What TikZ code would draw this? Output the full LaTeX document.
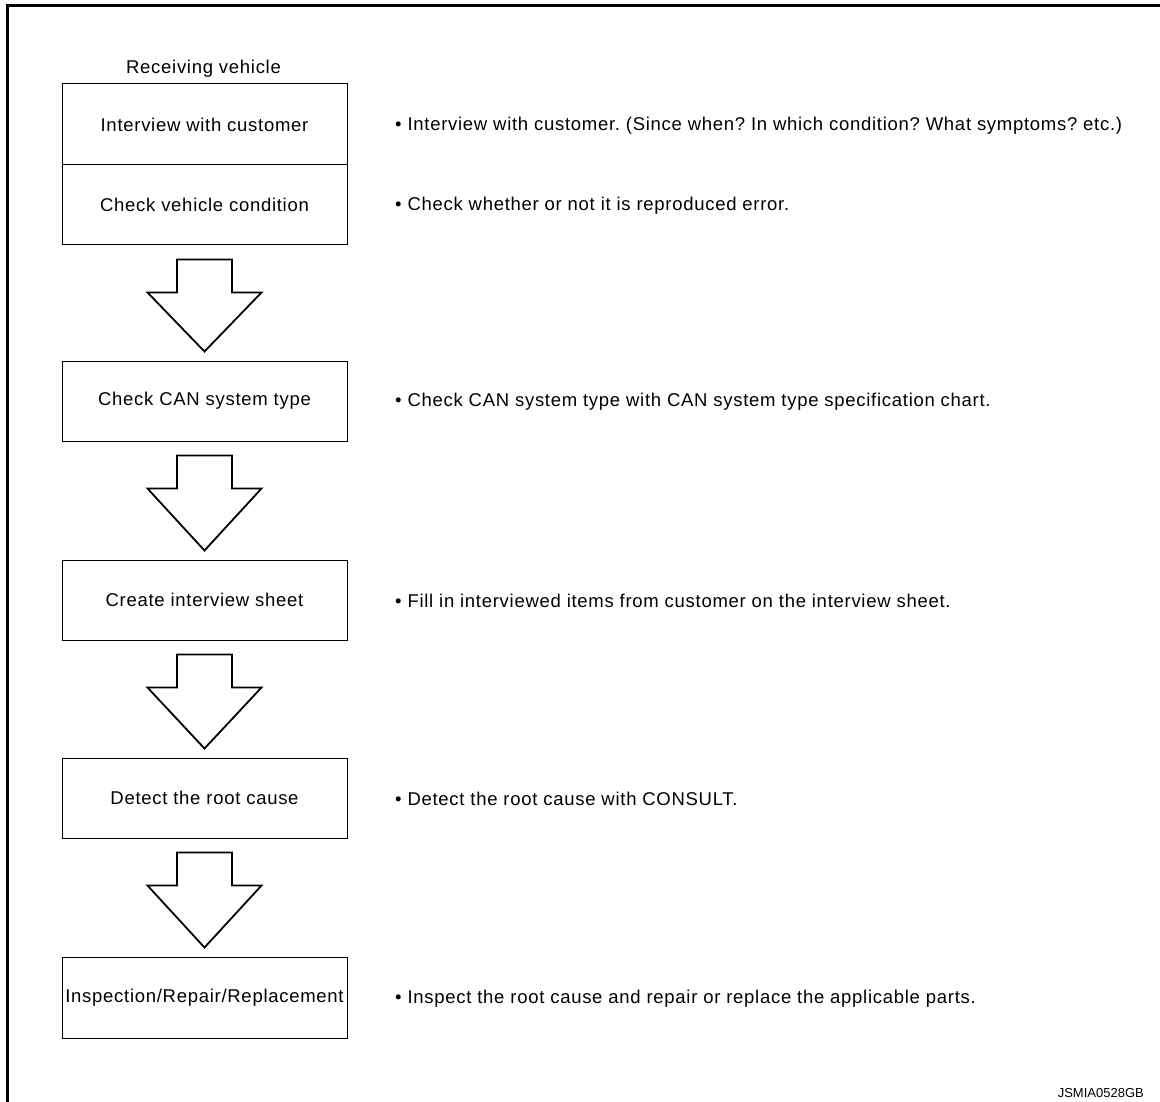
\documentclass[tikz,border=0pt]{standalone}
\usepackage{fontspec}
\setmainfont{Liberation Sans}
\usetikzlibrary{calc}
\newfontfamily\lbl[LetterSpace=3.9]{Liberation Sans}
\frenchspacing
\tikzset{
  stepbox/.style={draw, line width=1pt, minimum width=285pt, minimum height=80pt, inner sep=0pt, font=\lbl\fontsize{18.5}{21}\selectfont},
  note/.style={anchor=west, inner sep=0pt, font=\lbl\fontsize{18.5}{21}\selectfont},
  fat/.style={draw, line width=1.8pt, fill=white, line join=miter},
  frame/.style={line width=3pt, line join=miter}
}
\newcommand\fatarrow[2]{%
  \draw[fat] ($(#1.south)+(-27.5,14)$) -- ($(#1.south)+(27.5,14)$) -- ($(#1.south)+(27.5,47)$) -- ($(#1.south)+(57,47)$) -- ($(#2.north)+(0,-9)$) -- ($(#1.south)+(-57,47)$) -- ($(#1.south)+(-27.5,47)$) -- cycle;}
\begin{document}
\begin{tikzpicture}[x=1pt,y=-1pt]
\useasboundingbox (0,0) rectangle (1160,1102);
\draw[frame] (1160,5.5) -- (7,5.5) -- (7,1102);

\node[note, anchor=center] (rv) at (203.5,69) {Receiving vehicle};

\node[stepbox, minimum height=81pt] (b1) at (204.5,124.5) {Interview with customer};
\node[stepbox] (b2) at (204.5,205) {Check vehicle condition};
\node[stepbox] (b3) at (204.5,401) {Check CAN system type};
\node[stepbox] (b4) at (204.5,600) {Create interview sheet};
\node[stepbox] (b5) at (204.5,798) {Detect the root cause};
\node[stepbox, minimum height=81pt] (b6) at (204.5,997.5) {Inspection/Repair/Replacement};

\fatarrow{b2}{b3}
\fatarrow{b3}{b4}
\fatarrow{b4}{b5}
\fatarrow{b5}{b6}

\node[note] (n1) at (395,126) {• Interview with customer. (Since when? In which condition? What symptoms? etc.)};
\node[note] (n2) at (395,206) {• Check whether or not it is reproduced error.};
\node[note] (n3) at (395,402) {• Check CAN system type with CAN system type specification chart.};
\node[note] (n4) at (395,601) {• Fill in interviewed items from customer on the interview sheet.};
\node[note] (n5) at (395,799) {• Detect the root cause with CONSULT.};
\node[note] (n6) at (395,999) {• Inspect the root cause and repair or replace the applicable parts.};

\node[anchor=east, inner sep=0pt, font=\fontsize{13}{15}\selectfont] (id) at (1144,1093) {JSMIA0528GB};
\end{tikzpicture}
\end{document}
